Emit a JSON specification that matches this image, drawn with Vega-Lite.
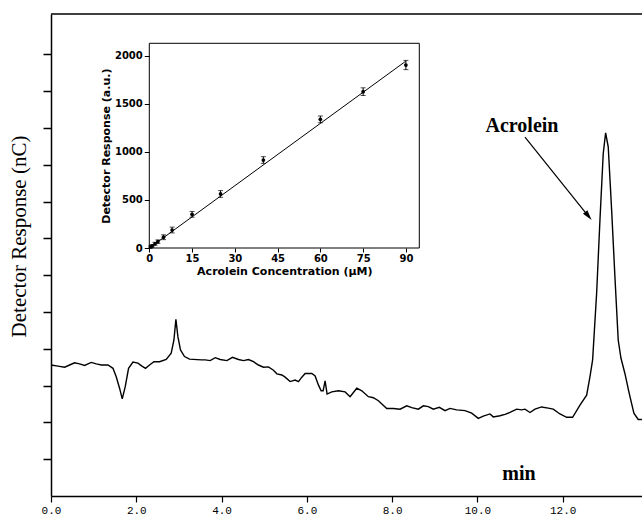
{
  "$schema": "https://vega.github.io/schema/vega-lite/v6.json",
  "width": 591,
  "height": 482,
  "autosize": {"type": "none"},
  "padding": {"left": 51, "top": 14, "right": 0, "bottom": 23},
  "background": "white",
  "config": {"view": {"stroke": null}, "axis": {"grid": false}},
  "resolve": {"scale": {"x": "independent", "y": "independent"}, "axis": {"x": "independent", "y": "independent"}},
  "layer": [
    {
      "layer": [
        {
          "data": {"values": [
            {"t":0.0,"r":3.56},{"t":0.164,"r":3.53},{"t":0.319,"r":3.50},{"t":0.436,"r":3.56},{"t":0.553,"r":3.62},{"t":0.670,"r":3.59},{"t":0.787,"r":3.55},{"t":0.944,"r":3.63},{"t":1.062,"r":3.59},{"t":1.179,"r":3.56},{"t":1.336,"r":3.56},{"t":1.453,"r":3.47},{"t":1.530,"r":3.24},{"t":1.608,"r":2.93},{"t":1.671,"r":2.64},{"t":1.741,"r":2.97},{"t":1.819,"r":3.47},{"t":1.922,"r":3.64},{"t":2.039,"r":3.61},{"t":2.133,"r":3.53},{"t":2.217,"r":3.47},{"t":2.311,"r":3.56},{"t":2.414,"r":3.65},{"t":2.545,"r":3.65},{"t":2.702,"r":3.71},{"t":2.819,"r":3.88},{"t":2.883,"r":4.24},{"t":2.929,"r":4.80},{"t":2.976,"r":4.33},{"t":3.037,"r":3.97},{"t":3.131,"r":3.79},{"t":3.248,"r":3.72},{"t":3.522,"r":3.70},{"t":3.616,"r":3.70},{"t":3.733,"r":3.68},{"t":3.851,"r":3.76},{"t":3.968,"r":3.71},{"t":4.125,"r":3.68},{"t":4.256,"r":3.77},{"t":4.397,"r":3.71},{"t":4.514,"r":3.68},{"t":4.631,"r":3.71},{"t":4.748,"r":3.65},{"t":4.865,"r":3.56},{"t":4.983,"r":3.50},{"t":5.100,"r":3.51},{"t":5.217,"r":3.42},{"t":5.297,"r":3.32},{"t":5.414,"r":3.29},{"t":5.491,"r":3.23},{"t":5.608,"r":3.11},{"t":5.725,"r":3.15},{"t":5.803,"r":3.11},{"t":5.882,"r":3.23},{"t":5.960,"r":3.33},{"t":6.117,"r":3.33},{"t":6.194,"r":3.26},{"t":6.271,"r":3.02},{"t":6.335,"r":2.86},{"t":6.382,"r":2.86},{"t":6.428,"r":3.13},{"t":6.475,"r":2.77},{"t":6.585,"r":2.83},{"t":6.740,"r":2.86},{"t":6.897,"r":2.83},{"t":7.014,"r":2.70},{"t":7.171,"r":2.93},{"t":7.289,"r":2.86},{"t":7.443,"r":2.70},{"t":7.560,"r":2.67},{"t":7.678,"r":2.59},{"t":7.874,"r":2.38},{"t":8.029,"r":2.38},{"t":8.186,"r":2.36},{"t":8.343,"r":2.45},{"t":8.460,"r":2.40},{"t":8.615,"r":2.36},{"t":8.732,"r":2.45},{"t":8.849,"r":2.43},{"t":8.967,"r":2.36},{"t":9.107,"r":2.41},{"t":9.241,"r":2.32},{"t":9.358,"r":2.38},{"t":9.515,"r":2.34},{"t":9.709,"r":2.32},{"t":9.866,"r":2.25},{"t":10.021,"r":2.11},{"t":10.138,"r":2.17},{"t":10.295,"r":2.23},{"t":10.373,"r":2.15},{"t":10.530,"r":2.18},{"t":10.647,"r":2.22},{"t":10.764,"r":2.27},{"t":10.921,"r":2.36},{"t":11.038,"r":2.34},{"t":11.116,"r":2.36},{"t":11.233,"r":2.27},{"t":11.350,"r":2.36},{"t":11.507,"r":2.42},{"t":11.662,"r":2.39},{"t":11.779,"r":2.36},{"t":11.936,"r":2.23},{"t":12.093,"r":2.14},{"t":12.233,"r":2.14},{"t":12.405,"r":2.47},{"t":12.562,"r":2.74},{"t":12.639,"r":3.24},{"t":12.702,"r":3.70},{"t":12.796,"r":5.51},{"t":12.874,"r":7.50},{"t":12.951,"r":9.31},{"t":13.007,"r":9.87},{"t":13.068,"r":9.49},{"t":13.148,"r":7.77},{"t":13.225,"r":5.96},{"t":13.302,"r":4.24},{"t":13.366,"r":3.75},{"t":13.459,"r":3.33},{"t":13.560,"r":2.79},{"t":13.670,"r":2.25},{"t":13.771,"r":2.08},{"t":13.858,"r":2.08}
          ]},
          "mark": {"type": "line", "color": "black", "strokeWidth": 1.4},
          "encoding": {
            "x": {"field": "t", "type": "quantitative",
              "scale": {"domain": [0, 13.86], "nice": false, "zero": false},
              "axis": {"values": [0, 2, 4, 6, 8, 10, 12], "format": ".1f", "title": null, "labelFlush": false,
                "labelFont": "Liberation Mono", "labelFontSize": 11, "labelColor": "black",
                "tickColor": "black", "domainColor": "black", "tickSize": 6, "labelPadding": 2, "domainWidth": 1.5, "tickWidth": 1.2}},
            "y": {"field": "r", "type": "quantitative",
              "scale": {"domain": [0, 13.1], "nice": false, "zero": false},
              "axis": {"values": [1,2,3,4,5,6,7,8,9,10,11,12], "labels": false, "tickSize": 8, "tickColor": "black", "domainColor": "black", "domainWidth": 1.5, "tickWidth": 1.5,
                "title": "Detector Response (nC)", "titleFont": "Liberation Serif", "titleFontSize": 21, "titleFontWeight": "normal", "titleColor": "black",
                "titleX": -32, "titleY": 222, "titleAngle": -90, "titleAlign": "center", "titleBaseline": "middle"}}
          }
        },
        {
          "data": {"values": [{}]},
          "mark": {"type": "rule", "color": "black", "strokeWidth": 1.5},
          "encoding": {"y": {"datum": 13.1}}
        },
        {
          "data": {"values": [
            {"t": 11.045, "r": 9.89, "label": "Acrolein"},
            {"t": 10.975, "r": 0.435, "label": "min"}
          ]},
          "mark": {"type": "text", "font": "Liberation Serif", "fontWeight": "bold", "fontSize": 20, "color": "black", "align": "center", "baseline": "alphabetic"},
          "encoding": {
            "x": {"field": "t", "type": "quantitative"},
            "y": {"field": "r", "type": "quantitative"},
            "text": {"field": "label"}
          }
        },
        {
          "data": {"values": [{"t": 11.116, "r": 9.755, "t2": 12.62, "r2": 7.58}]},
          "mark": {"type": "rule", "color": "black", "strokeWidth": 1.2},
          "encoding": {
            "x": {"field": "t", "type": "quantitative"},
            "y": {"field": "r", "type": "quantitative"},
            "x2": {"field": "t2"},
            "y2": {"field": "r2"}
          }
        },
        {
          "data": {"values": [{"t": 12.679, "r": 7.5}]},
          "mark": {"type": "point", "shape": "M0,0L-0.5,1.8L0.5,1.8Z", "angle": 141, "filled": true, "color": "black", "opacity": 1, "size": 130},
          "encoding": {
            "x": {"field": "t", "type": "quantitative"},
            "y": {"field": "r", "type": "quantitative"}
          }
        }
      ]
    },
    {
      "layer": [
        {
          "data": {"values": [{"c": 0, "d": 0}, {"c": 90, "d": 1944}]},
          "mark": {"type": "line", "color": "black", "strokeWidth": 1},
          "encoding": {
            "x": {"field": "c", "type": "quantitative",
              "scale": {"domain": [0, 94.7], "range": [98.3, 368.3], "nice": false, "zero": false},
              "axis": {"orient": "bottom", "offset": -248, "values": [0, 15, 30, 45, 60, 75, 90], "domain": false, "labelFlush": false,
                "tickSize": 4, "tickColor": "black", "labelFont": "DejaVu Sans", "labelFontWeight": "bold", "labelFontSize": 10, "labelColor": "black", "labelPadding": 1,
                "title": "Acrolein Concentration (μM)", "titleFont": "DejaVu Sans", "titleFontWeight": "bold", "titleFontSize": 11, "titleColor": "black", "titlePadding": 2}},
            "y": {"field": "d", "type": "quantitative",
              "scale": {"domain": [0, 2129], "range": [234, 29.3], "nice": false, "zero": false},
              "axis": {"orient": "left", "offset": -98.3, "values": [0, 500, 1000, 1500, 2000], "format": "d", "domain": false, "labelFlush": false,
                "tickSize": 5, "tickColor": "black", "labelFont": "DejaVu Sans", "labelFontWeight": "bold", "labelFontSize": 10, "labelColor": "black", "labelPadding": 2,
                "title": "Detector Response (a.u.)", "titleFont": "DejaVu Sans", "titleFontWeight": "bold", "titleFontSize": 11, "titleColor": "black", "titlePadding": 3}}
          }
        },
        {
          "data": {"values": [{}]},
          "mark": {"type": "rect", "fill": null, "fillOpacity": 0, "stroke": "black", "strokeWidth": 1},
          "encoding": {
            "x": {"datum": 0, "type": "quantitative"},
            "x2": {"datum": 94.7},
            "y": {"datum": 0, "type": "quantitative"},
            "y2": {"datum": 2129}
          }
        },
        {
          "data": {"name": "cal", "values": [
            {"c": 0.5, "d": 11, "lo": 1, "hi": 21},
            {"c": 1, "d": 22, "lo": 10, "hi": 34},
            {"c": 2, "d": 44, "lo": 29, "hi": 59},
            {"c": 3, "d": 66, "lo": 48, "hi": 84},
            {"c": 5, "d": 112, "lo": 87, "hi": 137},
            {"c": 8, "d": 187, "lo": 157, "hi": 217},
            {"c": 15, "d": 350, "lo": 320, "hi": 380},
            {"c": 25, "d": 562, "lo": 527, "hi": 597},
            {"c": 40, "d": 915, "lo": 880, "hi": 950},
            {"c": 60, "d": 1338, "lo": 1303, "hi": 1373},
            {"c": 75, "d": 1626, "lo": 1586, "hi": 1666},
            {"c": 90, "d": 1903, "lo": 1855, "hi": 1951}
          ]},
          "layer": [
            {
              "mark": {"type": "errorbar", "ticks": {"size": 5, "color": "black"}, "color": "black", "thickness": 1},
              "encoding": {
                "x": {"field": "c", "type": "quantitative", "title": "Acrolein Concentration (μM)"},
                "y": {"field": "lo", "type": "quantitative", "title": "Detector Response (a.u.)"},
                "y2": {"field": "hi"}
              }
            },
            {
              "mark": {"type": "point", "filled": true, "color": "black", "opacity": 1, "size": 14},
              "encoding": {
                "x": {"field": "c", "type": "quantitative", "title": "Acrolein Concentration (μM)"},
                "y": {"field": "d", "type": "quantitative", "title": "Detector Response (a.u.)"}
              }
            }
          ]
        }
      ]
    }
  ]
}
